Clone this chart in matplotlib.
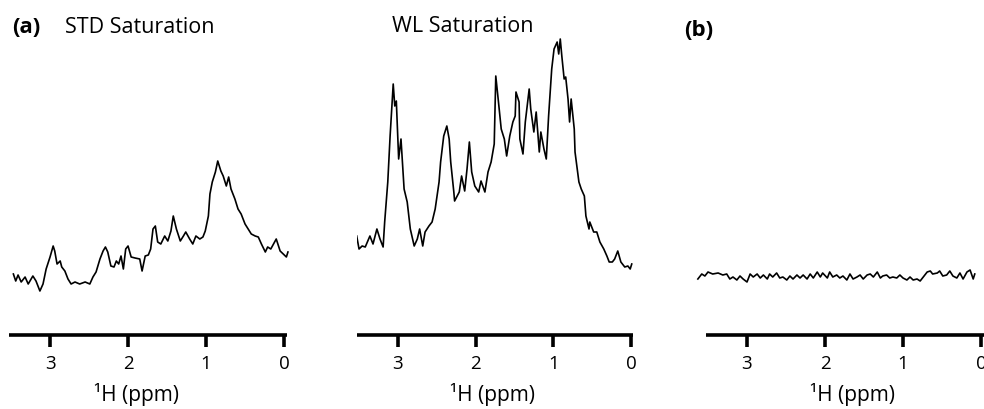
import matplotlib
matplotlib.use("Agg")
import matplotlib.pyplot as plt

plt.rcParams['font.family'] = ['Open Sans', 'DejaVu Sans']

# (a) STD saturation spectrum, chemical shift (ppm) and intensity (a.u.)
std_ppm = [3.47, 3.44, 3.41, 3.37, 3.32, 3.28, 3.22, 3.18, 3.13, 3.09, 3.05, 3.00,
           2.96, 2.94, 2.91, 2.87, 2.85, 2.81, 2.77, 2.73, 2.68, 2.62, 2.55, 2.49,
           2.45, 2.41, 2.36, 2.32, 2.29, 2.26, 2.22, 2.18, 2.15, 2.12, 2.09, 2.06,
           2.03, 2.00, 1.96, 1.91, 1.85, 1.82, 1.78, 1.74, 1.71, 1.68, 1.65, 1.62,
           1.58, 1.53, 1.49, 1.45, 1.42, 1.38, 1.33, 1.29, 1.26, 1.21, 1.17, 1.13,
           1.08, 1.04, 1.01, 0.97, 0.95, 0.92, 0.88, 0.85, 0.81, 0.78, 0.74, 0.71,
           0.68, 0.63, 0.59, 0.55, 0.50, 0.46, 0.42, 0.37, 0.33, 0.29, 0.24, 0.21,
           0.17, 0.10, 0.05, 0.01, -0.03, -0.05]
std_int = [61, 54, 60, 53, 58, 51, 59, 54, 44, 51, 66, 78,
           89, 84, 71, 74, 68, 64, 56, 51, 53, 51, 53, 51,
           58, 63, 76, 84, 88, 83, 69, 68, 74, 71, 79, 66,
           86, 89, 78, 77, 76, 64, 79, 80, 86, 106, 109, 93,
           91, 99, 94, 104, 119, 106, 94, 99, 103, 96, 91, 99,
           96, 98, 104, 119, 141, 153, 163, 174, 164, 159, 149, 158,
           146, 136, 126, 121, 111, 106, 101, 99, 98, 91, 83, 88,
           86, 96, 84, 81, 78, 83]

# WL saturation spectrum
wl_ppm = [3.53, 3.50, 3.46, 3.42, 3.36, 3.32, 3.27, 3.23, 3.19, 3.17, 3.13, 3.10,
          3.06, 3.04, 3.02, 2.99, 2.96, 2.92, 2.88, 2.84, 2.79, 2.75, 2.72, 2.68,
          2.65, 2.60, 2.56, 2.52, 2.47, 2.45, 2.41, 2.37, 2.34, 2.32, 2.28, 2.27,
          2.21, 2.18, 2.14, 2.11, 2.08, 2.05, 2.01, 1.96, 1.93, 1.88, 1.84, 1.80,
          1.76, 1.74, 1.70, 1.67, 1.63, 1.60, 1.56, 1.52, 1.49, 1.48, 1.44, 1.43,
          1.39, 1.36, 1.31, 1.29, 1.25, 1.22, 1.18, 1.16, 1.12, 1.09, 1.06, 1.02,
          0.99, 0.95, 0.93, 0.91, 0.89, 0.86, 0.84, 0.81, 0.79, 0.77, 0.73, 0.72,
          0.67, 0.64, 0.60, 0.58, 0.54, 0.53, 0.48, 0.44, 0.40, 0.35, 0.31, 0.28,
          0.24, 0.21, 0.17, 0.13, 0.08, 0.04, 0.01, -0.01]
wl_int = [99, 86, 89, 88, 99, 91, 106, 96, 88, 113, 153, 199,
          251, 229, 234, 176, 196, 146, 133, 106, 89, 96, 106, 89,
          103, 109, 113, 126, 153, 173, 199, 209, 196, 173, 143, 134,
          143, 159, 144, 166, 193, 163, 149, 143, 154, 143, 163, 173,
          191, 259, 229, 206, 196, 179, 199, 213, 219, 243, 233, 196,
          181, 213, 246, 226, 203, 223, 183, 203, 186, 176, 219, 266,
          286, 293, 281, 296, 279, 256, 258, 236, 213, 236, 206, 183,
          153, 146, 139, 119, 106, 113, 103, 103, 93, 86, 79, 73,
          73, 76, 84, 73, 68, 69, 66, 71]

# (b) control spectrum
ctrl_ppm = [3.63, 3.58, 3.54, 3.50, 3.44, 3.37, 3.31, 3.26, 3.22, 3.18, 3.13, 3.09,
            3.05, 3.00, 2.96, 2.92, 2.87, 2.83, 2.79, 2.74, 2.71, 2.67, 2.62, 2.58,
            2.54, 2.49, 2.45, 2.41, 2.36, 2.32, 2.28, 2.23, 2.19, 2.15, 2.10, 2.06,
            2.03, 1.97, 1.94, 1.90, 1.85, 1.81, 1.77, 1.72, 1.68, 1.64, 1.59, 1.55,
            1.51, 1.46, 1.42, 1.38, 1.33, 1.29, 1.26, 1.21, 1.17, 1.13, 1.08, 1.04,
            1.00, 0.95, 0.91, 0.87, 0.82, 0.78, 0.74, 0.69, 0.65, 0.62, 0.56, 0.53,
            0.49, 0.44, 0.40, 0.36, 0.31, 0.27, 0.23, 0.18, 0.14, 0.10, 0.08]
ctrl_int = [56, 61, 59, 63, 61, 62, 60, 61, 56, 58, 55, 59,
            56, 53, 61, 58, 61, 57, 60, 56, 61, 58, 62, 57,
            58, 55, 59, 56, 60, 57, 60, 56, 61, 57, 63, 58,
            62, 57, 63, 58, 60, 57, 59, 55, 61, 56, 58, 60,
            56, 60, 61, 58, 63, 57, 59, 60, 57, 58, 57, 60,
            57, 55, 58, 55, 56, 54, 58, 63, 64, 61, 62, 64,
            59, 60, 64, 59, 57, 62, 56, 63, 65, 56, 61]

ticks = [3, 2, 1, 0]
W, H = 984, 409

fig = plt.figure(figsize=(W / 100, H / 100), dpi=100)

# axes: (left px, width px, xlim, spine bounds, data)
panels = [
    (8.7, 280.8, (3.53, -0.07), (3.53, -0.04), std_ppm, std_int),
    (356.7, 276.6, (3.53, -0.03), (3.53, -0.03), wl_ppm, wl_int),
    (696.3, 292.5, (3.65, -0.10), (3.53, -0.10), ctrl_ppm, ctrl_int),
]
base_px, top_px = 335, 19
for left, width, xlim, bounds, x, y in panels:
    ax = fig.add_axes([left / W, (H - base_px) / H, width / W, (base_px - top_px) / H])
    ax.plot(x, y, color='black', lw=1.2)
    ax.set_xlim(*xlim)
    ax.set_ylim(0, base_px - top_px)
    for s in ['left', 'top', 'right']:
        ax.spines[s].set_visible(False)
    ax.spines['bottom'].set_linewidth(2.6)
    ax.spines['bottom'].set_bounds(*bounds)
    ax.spines['bottom'].set_capstyle('butt')
    ax.set_xticks(ticks)
    ax.set_xticklabels([str(t) for t in ticks])
    ax.tick_params(axis='x', direction='out', length=8.5, width=2.6, labelsize=13.5, pad=6)
    ax.set_yticks([])
    ax.patch.set_visible(False)

def ftext(xp, yp, s, **kw):
    fig.text(xp / W, 1 - yp / H, s, va='baseline', **kw)

ftext(12, 33, '(a)', ha='left', fontsize=16, fontweight='bold')
ftext(65, 33, 'STD Saturation', ha='left', fontsize=15.5)
ftext(463, 32, 'WL Saturation', ha='center', fontsize=15.5)
ftext(684, 36, '(b)', ha='left', fontsize=16, fontweight='bold')

for xc in [137, 492, 852]:
    ftext(xc, 401, '¹H (ppm)', ha='center', fontsize=15)

fig.savefig('out.png', dpi=100)
